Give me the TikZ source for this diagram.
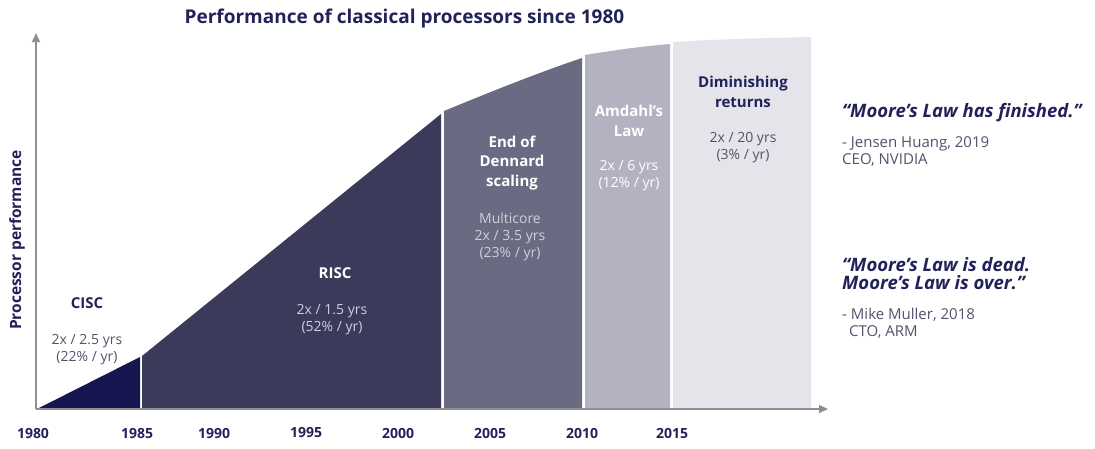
\documentclass[tikz,border=0pt]{standalone}
\usepackage{fontspec}
\setmainfont{Open Sans}
\usetikzlibrary{arrows.meta}
\definecolor{navy}{HTML}{22225A}
\definecolor{cisc}{HTML}{15154F}
\definecolor{risc}{HTML}{3C3A5B}
\definecolor{denn}{HTML}{6B6A83}
\definecolor{amd}{HTML}{B3B2C1}
\definecolor{dimi}{HTML}{E5E4EB}
\definecolor{axisg}{HTML}{8E8E96}
\definecolor{grayt}{HTML}{50536A}
\definecolor{lightt}{HTML}{CFCFD8}
\tikzset{
  yearlbl/.style={font=\fontsize{14}{15}\selectfont\bfseries, text=navy, inner sep=0pt},
  headlbl/.style={font=\fontsize{15}{19.5}\selectfont\bfseries, align=center, inner sep=0pt},
  ratelbl/.style={font=\fontsize{14}{17}\selectfont, align=center, inner sep=0pt},
  quote/.style={font=\fontsize{18.5}{17.5}\selectfont\bfseries\itshape, text=navy, align=left, anchor=west, inner sep=0pt},
  who/.style={font=\fontsize{15}{17}\selectfont, text=grayt, align=left, anchor=west, inner sep=0pt},
  axisline/.style={draw=axisg, line width=1.4pt, -{Triangle[length=9pt,width=8pt]}}
}
\begin{document}
\begin{tikzpicture}[x=1pt,y=-1pt]
\useasboundingbox (0,0) rectangle (1095,448);
% regions
\fill[cisc] (37,409) -- (140,357) -- (140,409) -- cycle;
\fill[risc] (142,409) -- (142,356) -- (441,114) -- (441,409) -- cycle;
\fill[denn] (444,409) -- (444,111) .. controls (490,92) and (540,72) .. (582,58) -- (582,409) -- cycle;
\fill[amd] (585,409) -- (585,55) .. controls (615,50) and (645,46) .. (670,44) -- (670,409) -- cycle;
\fill[dimi] (673,409) -- (673,42) .. controls (720,39) and (770,38) .. (811,37) -- (811,409) -- cycle;
% axes
\coordinate (O) at (36,409);
\coordinate (xend) at (828,409);
\coordinate (yend) at (36,33);
\draw[axisline] (O) -- (xend);
\draw[axisline] (O) -- (yend);
% title
\node[font=\fontsize{19}{22}\selectfont\bfseries, text=navy, inner sep=0pt] (title) at (404.5,19) {Performance of classical processors since 1980};
% y label
\node[font=\fontsize{15.5}{16}\selectfont\bfseries, text=navy, rotate=90, inner sep=0pt] (ylab) at (17,240) {Processor performance};
% years
\node[yearlbl] (y1980) at (33,433) {1980};
\node[yearlbl] (y1985) at (137,433) {1985};
\node[yearlbl] (y1990) at (214,433) {1990};
\node[yearlbl] (y1995) at (306,433) {1995};
\node[yearlbl] (y2000) at (398,433) {2000};
\node[yearlbl] (y2005) at (490,433) {2005};
\node[yearlbl] (y2010) at (582,433) {2010};
\node[yearlbl] (y2015) at (672,433) {2015};
% region labels
\node[headlbl, text=navy] (cisc) at (87,303) {CISC};
\node[ratelbl, text=grayt] (ciscr) at (87,349.5) {2x / 2.5 yrs\\(22\% / yr)};
\node[headlbl, text=white] (risc) at (335,273) {RISC};
\node[ratelbl, text=lightt] (riscr) at (332,320) {2x / 1.5 yrs\\(52\% / yr)};
\node[headlbl, text=white] (denn) at (512,163) {End of\\Dennard\\scaling};
\node[ratelbl, text=lightt] (dennr) at (510,236.5) {Multicore\\2x / 3.5 yrs\\(23\% / yr)};
\node[headlbl, text=white] (amd) at (629,121) {Amdahl’s\\Law};
\node[ratelbl, text=white] (amdr) at (629,176) {2x / 6 yrs\\(12\% / yr)};
\node[headlbl, text=navy] (dimi) at (743,92) {Diminishing\\returns};
\node[ratelbl, text=grayt] (dimir) at (743,147.5) {2x / 20 yrs\\(3\% / yr)};
% quotes
\node[quote] (q1) at (842,113) {“Moore’s Law has finished.”};
\node[who] (w1) at (842,151.5) {- Jensen Huang, 2019\\CEO, NVIDIA};
\node[quote] (q2) at (842,273.5) {“Moore’s Law is dead.\\Moore’s Law is over.”};
\node[who] (w2) at (842,323.5) {- Mike Muller, 2018\\\hspace*{7pt}CTO, ARM};
\end{tikzpicture}
\end{document}
